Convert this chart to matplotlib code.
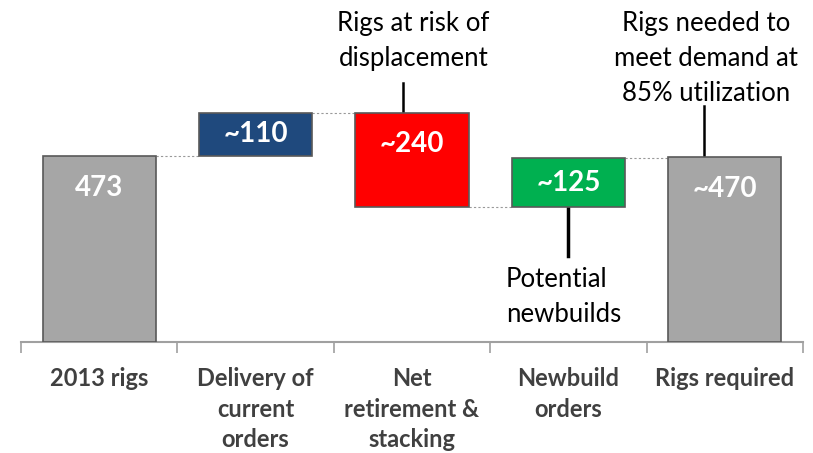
import matplotlib.pyplot as plt

categories = ["2013 rigs", "Delivery of\ncurrent\norders", "Net\nretirement &\nstacking",
              "Newbuild\norders", "Rigs required"]
changes = [473, 110, -240, 125, 470]
value_labels = ["473", "~110", "~240", "~125", "~470"]
kinds = ["total", "delta", "delta", "delta", "total"]
colors = ["#a6a6a6", "#1f497d", "#ff0000", "#00b050", "#a6a6a6"]

plt.rcParams['font.family'] = ['Lato', 'DejaVu Sans']

fig = plt.figure(figsize=(8.13, 4.53), dpi=100)
ax = fig.add_axes([21 / 813, 111 / 453, 782 / 813, 342 / 453])
ax.set_xlim(-0.5, 4.5)
ax.set_ylim(0, 870)

# waterfall bottoms / tops
bottoms, tops, ends = [], [], []
level = 0
for v, k in zip(changes, kinds):
    if k == "total":
        b, t = 0, v
        level = v
    else:
        b, t = min(level, level + v), max(level, level + v)
        level = level + v
    bottoms.append(b)
    tops.append(t)
    ends.append(level)

width = 0.725
x = list(range(len(categories)))
ax.bar(x, [t - b for b, t in zip(bottoms, tops)], bottom=bottoms, width=width,
       color=colors, edgecolor="#595959", linewidth=1.2, zorder=3)

# dotted connectors
for i in range(len(x) - 1):
    ax.plot([x[i] + width / 2, x[i + 1] - width / 2], [ends[i], ends[i]],
            color="#999999", linestyle=(0, (2, 2)), linewidth=0.8, zorder=2)

# value labels
for i, lab in enumerate(value_labels):
    b, t = bottoms[i], tops[i]
    y = max((b + t) / 2, t - 80)
    ax.text(x[i], y, lab, ha="center", va="center", color="white",
            fontsize=20, fontweight="bold", zorder=4)

# callouts
ax.plot([1.94, 1.94], [tops[2], tops[2] + 75], color="black", lw=1.8, clip_on=False)
ax.text(2.01, tops[2] + 183, "Rigs at risk of\ndisplacement", ha="center", va="center",
        fontsize=18.5, linespacing=1.5, color="black")

ax.plot([3.0, 3.0], [bottoms[3], bottoms[3] - 125], color="black", lw=2.5)
ax.text(2.60, bottoms[3] - 228, "Potential\nnewbuilds", ha="left", va="center",
        fontsize=18.5, linespacing=1.5, color="black")

ax.plot([3.87, 3.87], [tops[4], tops[4] + 130], color="black", lw=1.8, clip_on=False)
ax.text(3.88, tops[4] + 250, "Rigs needed to\nmeet demand at\n85% utilization",
        ha="center", va="center", fontsize=18.5, linespacing=1.5, color="black")

for s in ["top", "right", "left"]:
    ax.spines[s].set_visible(False)
ax.spines["bottom"].set_color("#a0a0a0")
ax.spines["bottom"].set_linewidth(1.5)
ax.set_yticks([])
ax.set_xticks([i - 0.5 for i in range(len(categories) + 1)], minor=False)
ax.set_xticklabels([])
ax.tick_params(axis="x", direction="out", length=8, color="#a0a0a0", width=1.2)
ax.set_xticks(x, minor=True)
ax.set_xticklabels(categories, minor=True, fontsize=17, fontweight="bold",
                   color="#404040", linespacing=1.4, va="top")
ax.tick_params(axis="x", which="minor", length=0, pad=18)

fig.savefig("out.png", dpi=100)
